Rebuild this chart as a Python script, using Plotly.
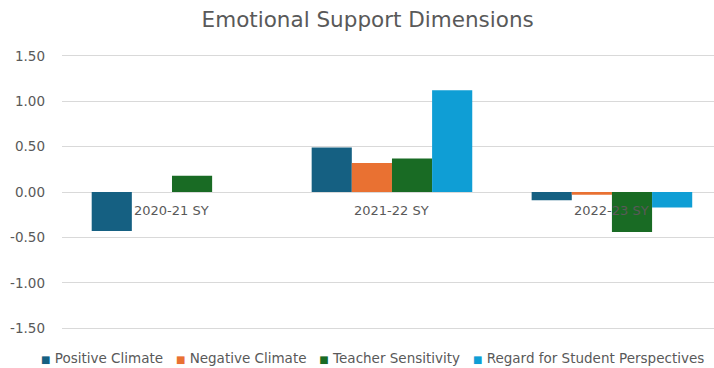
import plotly.graph_objects as go

categories = ["2020-21 SY", "2021-22 SY", "2022-23 SY"]
positive_climate = [-0.43, 0.49, -0.09]
negative_climate = [0.0, 0.32, -0.03]
teacher_sensitivity = [0.18, 0.37, -0.44]
regard_student = [0.0, 1.12, -0.17]
series_names = ["Positive Climate", "Negative Climate", "Teacher Sensitivity",
                "Regard for Student Perspectives"]
colors = ["#156082", "#E97132", "#196B24", "#0F9ED5"]
tick_vals = [-1.5, -1.0, -0.5, 0.0, 0.5, 1.0, 1.5]
tick_text = [f"{v:.2f}" for v in tick_vals]

FONT = "DejaVu Sans, sans-serif"
GRAY = "#595959"

fig = go.Figure()
for name, vals, c in zip(series_names,
                         [positive_climate, negative_climate, teacher_sensitivity, regard_student],
                         colors):
    fig.add_trace(go.Bar(x=categories, y=vals, name=name, marker_color=c,
                         marker_line_width=0))

# category labels sit just under the zero line, as in the source chart
for cat in categories:
    fig.add_annotation(x=cat, y=0, text=cat, showarrow=False, yanchor="top",
                       yshift=-9, font=dict(size=13, color=GRAY, family=FONT))

# compact legend row (square swatch + name)
legend_text = "&nbsp;&nbsp;&nbsp;".join(
    f"<span style='color:{c};font-size:10px'>■</span> {n}"
    for n, c in zip(series_names, colors))
fig.add_annotation(xref="paper", yref="paper", x=0.476, y=-0.101,
                   xanchor="center", yanchor="middle", showarrow=False,
                   text=legend_text, font=dict(size=13.5, color=GRAY, family=FONT))

fig.update_layout(
    width=714, height=368,
    margin=dict(l=62, r=0, t=54, b=38),
    paper_bgcolor="white", plot_bgcolor="white",
    font=dict(family=FONT, color=GRAY),
    title=dict(text="Emotional Support Dimensions", x=0.515, xanchor="center",
               y=0.946, yanchor="middle", font=dict(size=21.5, color=GRAY, family=FONT)),
    barmode="group", bargap=0.27, bargroupgap=0,
    showlegend=False,
    xaxis=dict(range=[-0.5, 2.464], showticklabels=False, showgrid=False,
               zeroline=False, showline=False, ticks=""),
    yaxis=dict(range=[-1.52, 1.52], tickvals=tick_vals, ticktext=tick_text,
               showgrid=True, gridcolor="#D9D9D9", gridwidth=1,
               zeroline=True, zerolinecolor="#D9D9D9", zerolinewidth=1,
               showline=False, ticks="", ticklabelstandoff=16,
               tickfont=dict(size=13.5, color=GRAY, family=FONT)),
)

fig.write_html("out.html")
